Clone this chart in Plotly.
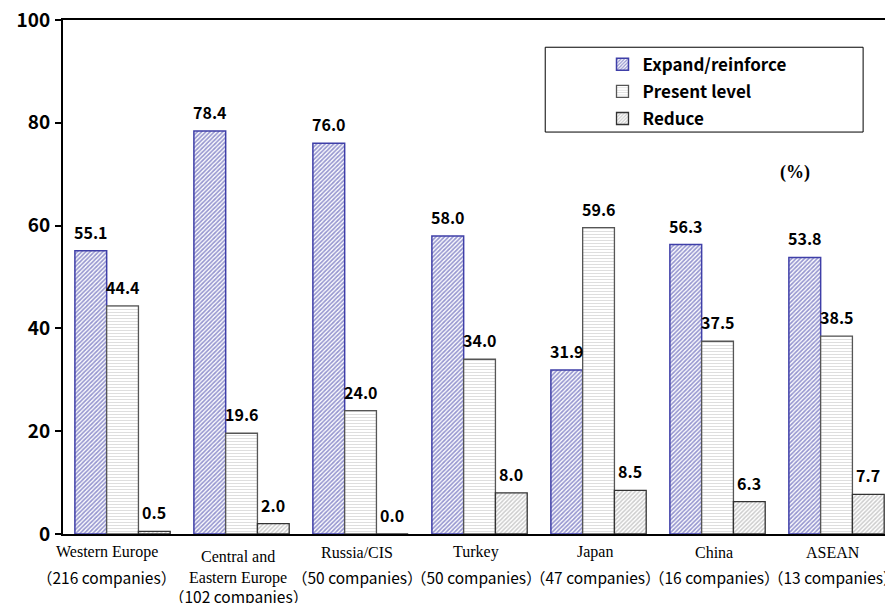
import plotly.graph_objects as go

# -----------------------------
# Data
# -----------------------------
regions = ["Western Europe", "Central and<br>Eastern Europe", "Russia/CIS", "Turkey",
           "Japan", "China", "ASEAN"]
counts = ["216", "102", "50", "50", "47", "16", "13"]
expand = [55.1, 78.4, 76.0, 58.0, 31.9, 56.3, 53.8]
present = [44.4, 19.6, 24.0, 34.0, 59.6, 37.5, 38.5]
reduce_ = [0.5, 2.0, 0.0, 8.0, 8.5, 6.3, 7.7]

SERIF = "Liberation Serif, Times New Roman, serif"
GOTHIC = "Noto Sans CJK JP, sans-serif"

x = list(range(len(regions)))
BW = 0.267
series = [
    ("Expand/reinforce", expand, -0.4,
     dict(color="white", line=dict(color="#3f3fa8", width=1.5),
          pattern=dict(shape="/", fgcolor="#2e2ea0", bgcolor="white", size=3, solidity=0.55))),
    ("Present level", present, -0.4 + BW,
     dict(color="white", line=dict(color="#555555", width=1.3),
          pattern=dict(shape="-", fgcolor="#bdbdbd", bgcolor="white", size=3, solidity=0.35))),
    ("Reduce", reduce_, -0.4 + 2 * BW,
     dict(color="white", line=dict(color="#333333", width=1.3),
          pattern=dict(shape="/", fgcolor="#9a9a9a", bgcolor="white", size=3, solidity=0.5))),
]

fig = go.Figure()
for i, (name, vals, off, marker) in enumerate(series):
    fig.add_trace(go.Bar(x=x, y=vals, name=name, offset=off, width=BW,
                         marker=marker, legendgroup=str(i)))
    for xi, v in zip(x, vals):
        fig.add_annotation(x=xi + off + BW / 2, y=v, text=f"{v:.1f}", showarrow=False,
                           xanchor="center", yanchor="middle", yshift=19,
                           font=dict(family=GOTHIC, size=16, color="black", weight="bold"))

# category labels below the axis (first one sits a bit left in the original)
for xi, r, c in zip(x, regions, counts):
    two = "<br>" in r
    dx = -16 if xi == 0 else -3
    fig.add_annotation(x=xi, y=0, yref="paper", text=r, showarrow=False, xshift=dx,
                       xanchor="center", yanchor="middle", yshift=-33 if two else -18,
                       font=dict(family=SERIF, size=16, color="black"))
    fig.add_annotation(x=xi, y=0, yref="paper", text=f"（{c} companies）", showarrow=False,
                       xshift=dx, xanchor="center", yanchor="middle",
                       yshift=-62 if two else -43,
                       font=dict(family=GOTHIC, size=15.5, color="black"))

fig.add_annotation(
    x=0.882, y=0.704, xref="paper", yref="paper", text="<b>(%)</b>",
    xanchor="center", yanchor="middle",
    showarrow=False, font=dict(family=SERIF, size=18, color="black"),
)

# legend frame
fig.add_shape(type="rect", xref="paper", yref="paper", x0=0.581, x1=0.964, y0=0.782, y1=0.947,
              line=dict(color="black", width=1), fillcolor="white", layer="below")

# the page body adds an 8px offset, so margins are shifted to compensate
fig.update_layout(
    width=893, height=603,
    margin=dict(l=55, r=8, t=12, b=77),
    paper_bgcolor="white", plot_bgcolor="white",
    barmode="overlay",
    font=dict(family=SERIF, color="black"),
    showlegend=True,
    legend=dict(
        x=0.650, y=0.948, xanchor="left", yanchor="top",
        bgcolor="rgba(0,0,0,0)", borderwidth=0,
        font=dict(family=GOTHIC, size=17, color="black", weight="bold"),
        itemwidth=30, tracegroupgap=2,
    ),
)

fig.update_xaxes(
    range=[-0.5, 6.475], showticklabels=False, automargin=False,
    showline=True, linecolor="black", linewidth=2, mirror=True,
    ticks="", showgrid=False, zeroline=False,
)
fig.update_yaxes(
    range=[0, 100], tickvals=[0, 20, 40, 60, 80, 100], automargin=False,
    showgrid=False, zeroline=False, ticklabeloverflow="allow",
    showline=True, linecolor="black", linewidth=2, mirror=False,
    ticks="outside", ticklen=6, tickwidth=2, tickcolor="black", ticklabelstandoff=1,
    tickfont=dict(family=GOTHIC, size=19, color="black", weight="bold"),
)

fig.write_html("out.html")
